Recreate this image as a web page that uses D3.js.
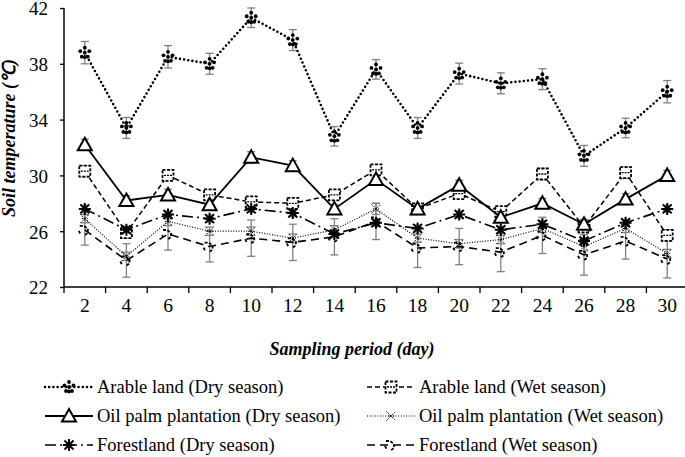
<!DOCTYPE html>
<html>
<head>
<meta charset="utf-8">
<script src="https://cdn.jsdelivr.net/npm/d3@7"></script>
<style>
  body { margin: 0; background: #fff; }
</style>
</head>
<body>
<div id="chart"></div>
<script>
// Data
var days = [2, 4, 6, 8, 10, 12, 14, 16, 18, 20, 22, 24, 26, 28, 30];
var yTicks = [22, 26, 30, 34, 38, 42];

var arableDry = [38.8, 33.4, 38.5, 38.0, 41.3, 39.7, 32.8, 37.6, 33.4, 37.3, 36.6, 36.9, 31.4, 33.4, 36.0];
var arableDryErr = [0.8, 0.75, 0.8, 0.75, 0.7, 0.75, 0.7, 0.7, 0.75, 0.75, 0.75, 0.75, 0.75, 0.7, 0.8];
var arableWet = [30.3, 25.9, 30.0, 28.6, 28.1, 28.0, 28.6, 30.4, 27.6, 28.7, 27.4, 30.1, 26.3, 30.2, 25.7];
var arableWetErr = [0.4, 0.4, 0.35, 0.35, 0.35, 0.35, 0.35, 0.35, 0.3, 0.35, 0.3, 0.4, 0.35, 0.4, 0.4];
var oilDry = [32.2, 28.2, 28.6, 27.9, 31.3, 30.7, 27.6, 29.7, 27.6, 29.3, 27.0, 28.0, 26.5, 28.3, 30.0];
var oilDryErr = [0.4, 0.35, 0.4, 0.35, 0.4, 0.35, 0.3, 0.4, 0.3, 0.35, 0.3, 0.35, 0.35, 0.4, 0.35];
var oilWet = [26.9, 24.2, 26.7, 26.0, 26.0, 25.5, 26.1, 27.6, 25.5, 25.1, 25.4, 26.2, 24.9, 26.2, 24.4];
var oilWetErr = [0.3, 0.3, 0.3, 0.3, 0.3, 0.3, 0.3, 0.4, 0.3, 0.3, 0.3, 0.3, 0.3, 0.3, 0.3];
var forestDry = [27.6, 26.1, 27.2, 26.9, 27.6, 27.3, 25.8, 26.6, 26.2, 27.2, 26.1, 26.5, 25.3, 26.6, 27.6];
var forestDryErr = [0.25, 0.25, 0.25, 0.25, 0.25, 0.25, 0.25, 0.25, 0.25, 0.25, 0.25, 0.25, 0.25, 0.25, 0.25];
var forestWet = [26.1, 23.9, 25.8, 24.9, 25.5, 25.2, 25.6, 26.7, 24.8, 24.9, 24.5, 25.7, 24.3, 25.3, 24.0];
var forestWetErr = [1.1, 1.2, 1.15, 1.1, 1.3, 1.3, 1.3, 1.3, 1.4, 1.3, 1.4, 1.3, 1.45, 1.3, 1.35];

var seriesNames = [
    'Arable land (Dry season)', 'Arable land (Wet season)',
    'Oil palm plantation (Dry season)', 'Oil palm plantation (Wet season)',
    'Forestland (Dry season)', 'Forestland (Wet season)'
];

var svgWidth = 685;
var svgHeight = 457;
var serif = '"Liberation Serif"';

var svg = d3.select('#chart')
    .append('svg')
    .attr('width', svgWidth)
    .attr('height', svgHeight);

var margin = { top: 8, left: 64, bottom: 170, right: -3 };

var xScale = d3.scaleBand()
    .domain(days)
    .range([margin.left, svgWidth - margin.right]);

var yScale = d3.scaleLinear()
    .domain([22, 42])
    .range([svgHeight - margin.bottom, margin.top]);

var cx = (d) => xScale(d) + xScale.bandwidth() / 2;

// Axes
var xAxis = svg.append('g')
    .attr('transform', `translate(0, ${yScale(22)})`)
    .call(d3.axisBottom(xScale).tickSize(5).tickFormat(''));
xAxis.select('.domain').attr('d', `M${margin.left},0H${svgWidth + 5}`).attr('stroke-width', 1.5);
// ticks sit at the band edges
xAxis.selectAll('.tick').remove();
days.concat([32]).forEach((d, i) => {
    var x = margin.left + i * xScale.step();
    xAxis.append('line')
        .attr('x1', x).attr('x2', x)
        .attr('y1', 0).attr('y2', 6)
        .attr('stroke', '#000')
        .attr('stroke-width', 1.3);
});
xAxis.selectAll('.xlab')
    .data(days)
    .enter()
    .append('text')
    .attr('x', (d) => cx(d))
    .attr('y', 25)
    .attr('text-anchor', 'middle')
    .attr('fill', '#000')
    .style('font-size', '19.5px')
    .style('font-family', serif)
    .text((d) => d);

var yAxis = svg.append('g')
    .attr('transform', `translate(${margin.left}, 0)`)
    .call(d3.axisLeft(yScale).tickValues(yTicks).tickSize(4).tickPadding(12));
yAxis.attr('font-family', null);
yAxis.selectAll('text')
    .style('font-size', '19px')
    .style('font-family', serif)
    .attr('dy', '0.36em');
yAxis.selectAll('line').attr('stroke-width', 1.3);
yAxis.select('.domain').attr('stroke-width', 1.5).attr('d', `M0,${yScale(42)}V${yScale(22)}`);

// Axis titles
svg.append('text')
    .attr('x', 352)
    .attr('y', 355)
    .attr('text-anchor', 'middle')
    .style('font-family', serif)
    .style('font-size', '18px')
    .style('font-weight', 'bold')
    .style('font-style', 'italic')
    .text('Sampling period (day)');

svg.append('text')
    .attr('transform', `translate(15, 138) rotate(-90)`)
    .attr('text-anchor', 'middle')
    .style('font-family', serif)
    .style('font-size', '18px')
    .style('font-weight', 'bold')
    .style('font-style', 'italic')
    .text('Soil temperature (\u2103)');

// Marker drawing functions
function markClover(g) {
    [[0, -5], [-4.5, -1.5], [4.5, -1.5], [-3, 4], [3, 4], [0, 0], [0, 4.5]].forEach((p) => {
        g.append('circle').attr('cx', p[0]).attr('cy', p[1]).attr('r', 1.9).attr('fill', '#000');
    });
}
function markSquare(g) {
    g.append('rect').attr('x', -5.5).attr('y', -5.5).attr('width', 11).attr('height', 11)
        .attr('fill', '#fff').attr('stroke', '#000').attr('stroke-width', 1.8)
        .attr('stroke-dasharray', '3,1.5');
    g.append('line').attr('x1', -4).attr('x2', 4).attr('y1', 0).attr('y2', 0)
        .attr('stroke', '#000').attr('stroke-width', 1.3).attr('stroke-dasharray', '2,1');
}
function markTriangle(g) {
    g.append('path').attr('d', 'M0,-7L7,5.5L-7,5.5Z')
        .attr('fill', '#fff').attr('stroke', '#000').attr('stroke-width', 2);
}
function markCross(g) {
    g.append('path').attr('d', 'M-4.5,-4.5L4.5,4.5M-4.5,4.5L4.5,-4.5M-3,0H3')
        .attr('fill', 'none').attr('stroke', '#000').attr('stroke-width', 1)
        .attr('stroke-dasharray', '1.5,1');
}
function markStar(g) {
    g.append('path').attr('d', 'M-6,0H6M0,-6V6M-4.5,-4.5L4.5,4.5M-4.5,4.5L4.5,-4.5')
        .attr('fill', 'none').attr('stroke', '#000').attr('stroke-width', 2);
}
function markHook(g) {
    g.append('path').attr('d', 'M-5,-4L-1,-4L3,-1L3,3L-1,6M-6,1L-4,5')
        .attr('fill', 'none').attr('stroke', '#000').attr('stroke-width', 1.8)
        .attr('stroke-dasharray', '3,1.5');
}

var series = [
    { name: seriesNames[0], values: arableDry, err: arableDryErr, dash: '0,4.2', width: 2.6, cap: 'round', mark: markClover },
    { name: seriesNames[1], values: arableWet, err: arableWetErr, dash: '5,3', width: 1.5, cap: 'butt', mark: markSquare },
    { name: seriesNames[2], values: oilDry, err: oilDryErr, dash: null, width: 1.8, cap: 'butt', mark: markTriangle },
    { name: seriesNames[3], values: oilWet, err: oilWetErr, dash: '1,1.6', width: 1.2, cap: 'butt', mark: markCross },
    { name: seriesNames[4], values: forestDry, err: forestDryErr, dash: '11,4,2,4', width: 1.6, cap: 'butt', mark: markStar },
    { name: seriesNames[5], values: forestWet, err: forestWetErr, dash: '8,5', width: 1.6, cap: 'butt', mark: markHook }
];

var line = d3.line()
    .x((d) => cx(d.day))
    .y((d) => yScale(d.value));

var plot = svg.append('g');

// Error bars
series.forEach((s) => {
    var pts = days.map((d, i) => ({ day: d, value: s.values[i], err: s.err[i] }));
    var eb = plot.append('g').attr('stroke', '#808080').attr('stroke-width', 1.3);
    pts.forEach((p) => {
        var x = cx(p.day);
        var y1 = yScale(p.value - p.err);
        var y2 = yScale(p.value + p.err);
        eb.append('line').attr('x1', x).attr('x2', x).attr('y1', y1).attr('y2', y2);
        eb.append('line').attr('x1', x - 4).attr('x2', x + 4).attr('y1', y1).attr('y2', y1);
        eb.append('line').attr('x1', x - 4).attr('x2', x + 4).attr('y1', y2).attr('y2', y2);
    });
});

// Lines and markers
series.forEach((s) => {
    var pts = days.map((d, i) => ({ day: d, value: s.values[i] }));
    plot.append('path')
        .datum(pts)
        .attr('d', line)
        .attr('fill', 'none')
        .attr('stroke', '#000')
        .attr('stroke-width', s.width)
        .attr('stroke-linecap', s.cap)
        .attr('stroke-dasharray', s.dash);
    pts.forEach((p) => {
        var g = plot.append('g')
            .attr('transform', `translate(${cx(p.day)}, ${yScale(p.value)})`);
        s.mark(g);
    });
});

// Legend
var legendCols = [45, 367];
var legendRows = [387, 416, 445];
series.forEach((s, i) => {
    var col = i % 2;
    var row = Math.floor(i / 2);
    var g = svg.append('g')
        .attr('transform', `translate(${legendCols[col]}, ${legendRows[row]})`);
    g.append('line')
        .attr('x1', 0).attr('x2', 48)
        .attr('y1', 0).attr('y2', 0)
        .attr('stroke', '#000')
        .attr('stroke-width', s.width)
        .attr('stroke-linecap', s.cap)
        .attr('stroke-dasharray', s.dash);
    var m = g.append('g').attr('transform', 'translate(24, 0)');
    s.mark(m);
    g.append('text')
        .attr('x', 52)
        .attr('y', 0)
        .attr('dy', '0.35em')
        .attr('fill', '#000')
        .style('font-family', serif)
        .style('font-size', '18.5px')
        .text(s.name);
});
</script>
</body>
</html>
